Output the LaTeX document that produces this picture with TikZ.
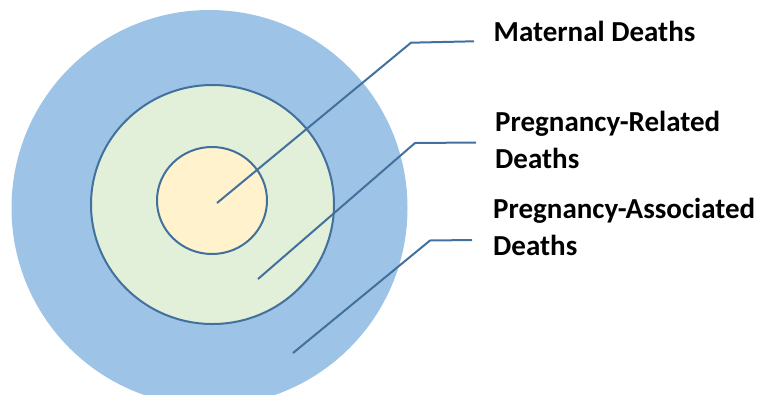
\documentclass[tikz,border=0pt]{standalone}
\usepackage{fontspec}
\setmainfont{Carlito}
\usetikzlibrary{shapes.geometric}
\definecolor{outerblue}{HTML}{9DC3E6}
\definecolor{midgreen}{HTML}{E2EFD9}
\definecolor{innercream}{HTML}{FFF2CC}
\definecolor{edgeblue}{HTML}{41719C}

\begin{document}
\begin{tikzpicture}[
    x=1pt, y=-1pt,
    ring/.style={ellipse, inner sep=0pt, draw=edgeblue, line width=2pt},
    leader/.style={edgeblue, line width=2pt},
    lbl/.style={font=\bfseries\fontsize{29}{37.5}\selectfont, inner sep=0pt,
      align=left, anchor=base west}
  ]
  \useasboundingbox (0,0) rectangle (762,394);

  % Nested circles
  \begin{scope}
    \clip (0,0) rectangle (762,394);
    \node[ellipse, fill=outerblue, minimum width=396pt, minimum height=396pt]
      (assoc) at (209.5,208) {};
  \end{scope}
  \node[ring, fill=midgreen, minimum width=243pt, minimum height=239pt]
    (related) at (212.5,204.5) {};
  \node[ring, fill=innercream, minimum width=110pt, minimum height=107pt]
    (maternal) at (212,200.5) {};

  % Labels (base = last line)
  \node[lbl] (maternal-lbl) at (493.5,41.7) {Maternal Deaths};
  \node[lbl] (related-lbl) at (495,168.5) {Pregnancy-Related\\Deaths};
  \node[lbl] (assoc-lbl) at (493,255.5) {Pregnancy-Associated\\Deaths};

  % Leader lines
  \coordinate (maternal-tip) at (217,203);
  \coordinate (maternal-bend) at (411,42.7);
  \coordinate (maternal-end) at (474,41.3);
  \coordinate (related-tip) at (258,279);
  \coordinate (related-bend) at (415,143);
  \coordinate (related-end) at (476,142.5);
  \coordinate (assoc-tip) at (293,353);
  \coordinate (assoc-bend) at (430,240.5);
  \coordinate (assoc-end) at (472,240);
  \draw[leader] (maternal-tip) -- (maternal-bend) -- (maternal-end);
  \draw[leader] (related-tip) -- (related-bend) -- (related-end);
  \draw[leader] (assoc-tip) -- (assoc-bend) -- (assoc-end);
\end{tikzpicture}
\end{document}
